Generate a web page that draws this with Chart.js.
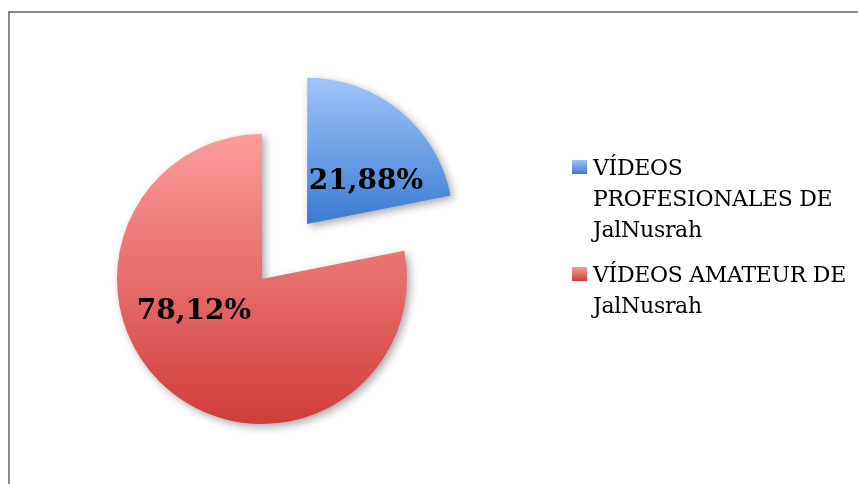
<!DOCTYPE html>
<html>
<head>
<meta charset="utf-8">
<script src="https://cdn.jsdelivr.net/npm/chart.js@4.4.1/dist/chart.umd.min.js"></script>
<style>
  html, body { margin: 0; padding: 0; background: #fff; }
  #wrap { position: relative; width: 858px; height: 484px; overflow: hidden; }
  #frame { position: absolute; left: 8px; top: 11px; width: 900px; height: 500px; border: 2px solid #888; box-sizing: border-box; }
  #pie { position: absolute; left: 0; top: 0; }
  #legend { position: absolute; left: 572px; top: 152px; font-family: 'DejaVu Serif', serif; font-size: 22px; letter-spacing: -0.3px; line-height: 31px; color: #000; }
  .item { position: relative; padding-left: 21px; width: 265px; margin-bottom: 14px; }
  .box { position: absolute; left: 0; top: 8px; width: 15px; height: 14px; }
</style>
</head>
<body>
<div id="wrap">
  <div id="frame"></div>
  <canvas id="pie" width="858" height="484"></canvas>
  <div id="legend"></div>
</div>
<script>
const labels = ['VÍDEOS PROFESIONALES DE JalNusrah', 'VÍDEOS AMATEUR DE JalNusrah'];
const shares = [21.88, 78.12];

// light (top) -> dark (bottom) for each slice
const topColors = ['#9ec4fb', '#fd9c9a'];
const bottomColors = ['#3b7bd1', '#cf3e3b'];

const R = 145;

function sliceGradient(context) {
  const chart = context.chart;
  const area = chart.chartArea;
  const i = context.dataIndex;
  if (!area) return bottomColors[i];
  const cy = (area.top + area.bottom) / 2;
  // blue slice lives in the top half only, red covers the whole circle
  const y1 = i === 0 ? cy : cy + R;
  const g = chart.ctx.createLinearGradient(0, cy - R, 0, y1);
  g.addColorStop(0, topColors[i]);
  g.addColorStop(1, bottomColors[i]);
  return g;
}

const shadowPlugin = {
  id: 'shadow',
  beforeDatasetsDraw(chart) {
    const ctx = chart.ctx;
    ctx.save();
    ctx.shadowColor = 'rgba(0,0,0,0.35)';
    ctx.shadowBlur = 8;
    ctx.shadowOffsetX = 3;
    ctx.shadowOffsetY = 3;
  },
  afterDatasetsDraw(chart) {
    chart.ctx.restore();
  }
};

// label angle shift (deg) and radius fraction, per slice
const labelShift = [15, 25];
const labelFrac = [0.5, 0.52];

const valueLabels = {
  id: 'valueLabels',
  afterDraw(chart) {
    const ctx = chart.ctx;
    const meta = chart.getDatasetMeta(0);
    ctx.save();
    ctx.font = 'bold 28px "DejaVu Serif", serif';
    ctx.fillStyle = '#000';
    ctx.textAlign = 'center';
    ctx.textBaseline = 'middle';
    meta.data.forEach((arc, i) => {
      const p = arc.getProps(['x', 'y', 'startAngle', 'endAngle', 'outerRadius'], true);
      const off = (arc.options.offset || 0) / 4;
      const mid = (p.startAngle + p.endAngle) / 2;
      const cx = p.x + Math.cos(mid) * off;
      const cy = p.y + Math.sin(mid) * off;
      const a = mid + labelShift[i] * Math.PI / 180;
      const r = p.outerRadius * labelFrac[i];
      const txt = shares[i].toFixed(2).replace('.', ',') + '%';
      ctx.fillText(txt, cx + Math.cos(a) * r, cy + Math.sin(a) * r);
    });
    ctx.restore();
  }
};

const chart = new Chart(document.getElementById('pie').getContext('2d'), {
  type: 'pie',
  data: {
    labels: labels,
    datasets: [{
      data: shares,
      backgroundColor: sliceGradient,
      borderWidth: 0,
      offset: [284, 0],
      radius: R
    }]
  },
  options: {
    responsive: false,
    animation: false,
    events: [],
    layout: { padding: { left: 117, top: 134, right: 451, bottom: 60 } },
    plugins: {
      legend: { display: false },
      tooltip: { enabled: false }
    }
  },
  plugins: [shadowPlugin, valueLabels]
});

// legend built from the same labels/colours
const legend = document.getElementById('legend');
labels.forEach((lab, i) => {
  const item = document.createElement('div');
  item.className = 'item';
  const box = document.createElement('span');
  box.className = 'box';
  box.style.background = 'linear-gradient(' + topColors[i] + ',' + bottomColors[i] + ')';
  item.appendChild(box);
  item.appendChild(document.createTextNode(lab));
  legend.appendChild(item);
});
</script>
</body>
</html>
